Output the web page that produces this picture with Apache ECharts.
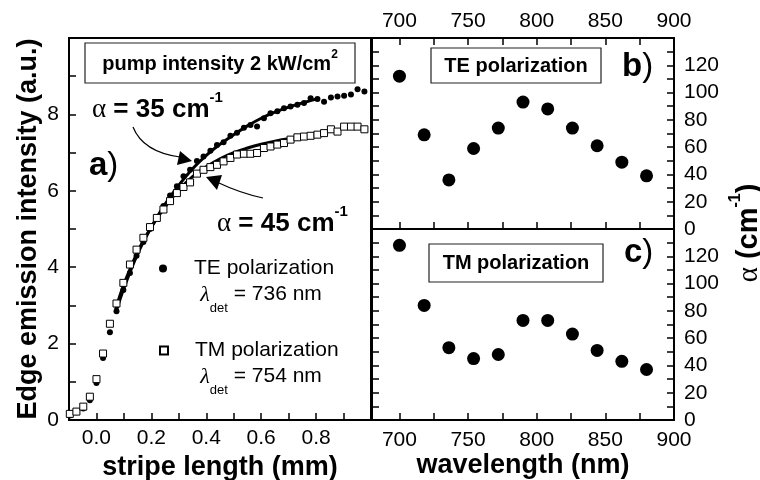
<!DOCTYPE html>
<html>
<head>
<meta charset="utf-8">
<script src="https://cdn.jsdelivr.net/npm/echarts@6/dist/echarts.min.js"></script>
<style>
  html, body { margin: 0; background: #fff; }
  #chart { width: 760px; height: 480px; }
</style>
</head>
<body>
<div id="chart"></div>
<script>
// panel a) - edge emission vs stripe length
const stripeLength = [-0.097, -0.073, -0.048, -0.024, 0.000, 0.024, 0.049, 0.073, 0.098, 0.122,
  0.146, 0.171, 0.195, 0.220, 0.244, 0.268, 0.293, 0.317, 0.341, 0.366,
  0.390, 0.415, 0.439, 0.463, 0.488, 0.512, 0.537, 0.561, 0.585, 0.610,
  0.634, 0.659, 0.683, 0.707, 0.732, 0.756, 0.780, 0.805, 0.829, 0.854,
  0.878, 0.902, 0.927, 0.951, 0.976];
const teIntensity = [0.12, 0.20, 0.30, 0.52, 0.97, 1.62, 2.30, 2.85, 3.40, 3.85,
  4.30, 4.66, 5.00, 5.30, 5.60, 5.88, 6.12, 6.38, 6.55, 6.78,
  6.90, 7.05, 7.20, 7.27, 7.44, 7.52, 7.65, 7.72, 7.68, 7.90,
  8.03, 8.08, 8.16, 8.21, 8.25, 8.30, 8.42, 8.40, 8.33, 8.44,
  8.47, 8.49, 8.52, 8.66, 8.60];
const tmIntensity = [0.16, 0.22, 0.35, 0.61, 1.07, 1.74, 2.52, 3.05, 3.59, 4.07,
  4.46, 4.77, 5.05, 5.29, 5.51, 5.73, 5.94, 6.10, 6.22, 6.45,
  6.55, 6.62, 6.68, 6.77, 6.86, 6.95, 6.97, 6.97, 6.99, 7.12,
  7.16, 7.21, 7.25, 7.34, 7.40, 7.42, 7.44, 7.47, 7.51, 7.61,
  7.55, 7.68, 7.68, 7.68, 7.61];
// fit curves (alpha = 35 and 45 cm-1)
const fitLength = [0.07, 0.10, 0.15, 0.20, 0.25, 0.30, 0.35, 0.40, 0.45, 0.50, 0.55, 0.60, 0.65, 0.70, 0.75, 0.81];
const teFit = [2.80, 3.45, 4.35, 5.05, 5.65, 6.15, 6.58, 6.93, 7.22, 7.47, 7.70, 7.90, 8.06, 8.19, 8.30, 8.42];
const tmFit = [2.90, 3.55, 4.40, 5.05, 5.58, 6.02, 6.37, 6.63, 6.84, 7.00, 7.12, 7.22, 7.30, 7.36, 7.40, 7.43];

// panels b) and c) - gain vs wavelength
const wavelength = [700, 718, 736, 754, 772, 790, 808, 826, 844, 862, 880];
const alphaTE = [112, 69, 36, 59, 74, 93, 88, 74, 61, 49, 39];
const alphaTM = [128, 84, 53, 45, 48, 73, 73, 63, 51, 43, 37];

// ticks and labels
const stripeTicks = [0, 0.1, 0.2, 0.3, 0.4, 0.5, 0.6, 0.7, 0.8, 0.9];
const stripeLabels = [0, 0.2, 0.4, 0.6, 0.8];
const intensityTicks = [0, 1, 2, 3, 4, 5, 6, 7, 8, 9, 10];
const intensityLabels = [0, 2, 4, 6, 8];
const waveTicks = [700, 725, 750, 775, 800, 825, 850, 875, 900];
const waveLabels = [700, 750, 800, 850, 900];
const alphaTicks = [0, 10, 20, 30, 40, 50, 60, 70, 80, 90, 100, 110, 120, 130, 140];
const alphaLabels = [0, 20, 40, 60, 80, 100, 120];

const FONT = '"Liberation Sans", Arial, sans-serif';
const SERIF = '"Liberation Serif", "DejaVu Serif", serif';

function zip(xs, ys) {
  return xs.map((x, i) => [x, ys[i]]);
}

// shared look of every axis
function axis(extra) {
  return Object.assign({
    type: 'value',
    splitLine: { show: false },
    axisLine: { show: true, onZero: false, lineStyle: { color: '#000', width: 2 } },
    axisTick: { show: true, inside: true, length: 7, lineStyle: { color: '#000', width: 1.5 } },
    axisLabel: { show: true, color: '#000', fontSize: 21, fontFamily: FONT },
    nameTextStyle: { color: '#000', fontSize: 27, fontWeight: 'bold', fontFamily: FONT }
  }, extra);
}

function ticks(values) {
  return { inside: true, length: 7, customValues: values, lineStyle: { color: '#000', width: 1.5 } };
}

function labels(values, margin, fmt) {
  return { color: '#000', fontSize: 21, fontFamily: FONT, margin: margin, customValues: values, formatter: fmt };
}

function txt(x, y, text, size, weight, more) {
  return {
    type: 'text', x: x, y: y, z: 100,
    style: Object.assign({
      text: text, fontSize: size, fontWeight: weight || 'normal', fontFamily: FONT,
      fill: '#000', align: 'left', verticalAlign: 'middle'
    }, more)
  };
}

function box(x, y, w, h) {
  return {
    type: 'rect', z: 90,
    shape: { x: x, y: y, width: w, height: h },
    style: { fill: '#fff', stroke: '#222', lineWidth: 1.2 }
  };
}

const supText = {
  a: { fontFamily: SERIF, fontSize: 27, lineHeight: 40 },
  b: { fontFamily: FONT, fontSize: 26, fontWeight: 'bold', lineHeight: 40 },
  s: { fontFamily: FONT, fontSize: 15, fontWeight: 'bold', lineHeight: 15, verticalAlign: 'top' }
};
const subText = {
  l: { fontFamily: SERIF, fontStyle: 'italic', fontSize: 22, lineHeight: 22, verticalAlign: 'top' },
  s: { fontFamily: FONT, fontSize: 13, lineHeight: 13, verticalAlign: 'bottom' },
  t: { fontFamily: FONT, fontSize: 21, lineHeight: 22, verticalAlign: 'top' },
  g: { fontSize: 1, lineHeight: 31, verticalAlign: 'top' }
};
const panelText = {
  b: { fontFamily: FONT, fontSize: 33, fontWeight: 'bold' },
  p: { fontFamily: FONT, fontSize: 33 }
};

function grid(left, top, width, height) {
  return {
    left: left, top: top, width: width, height: height, outerBoundsMode: 'none', containLabel: false,
    show: true, borderColor: '#000', borderWidth: 2
  };
}

const option = {
  backgroundColor: '#fff',
  animation: false,
  grid: [
    grid(69, 38, 302, 382),
    grid(372, 38, 302, 191),
    grid(372, 229, 302, 191)
  ],
  xAxis: [
    axis({
      gridIndex: 0, min: -0.1, max: 1.0, position: 'bottom',
      name: 'stripe length (mm)', nameLocation: 'middle', nameGap: 24,
      axisTick: ticks(stripeTicks),
      axisLabel: labels(stripeLabels, 8, v => v.toFixed(1))
    }),
    axis({
      gridIndex: 1, min: 680, max: 900, position: 'top',
      axisTick: ticks(waveTicks),
      axisLabel: labels(waveLabels, 6)
    }),
    axis({
      gridIndex: 1, min: 680, max: 900, position: 'bottom',
      axisTick: ticks(waveTicks),
      axisLabel: { show: false }
    }),
    axis({
      gridIndex: 2, min: 680, max: 900, position: 'bottom',
      name: 'wavelength (nm)', nameLocation: 'middle', nameGap: 32,
      axisTick: ticks(waveTicks),
      axisLabel: labels(waveLabels, 10)
    })
  ],
  yAxis: [
    axis({
      gridIndex: 0, min: 0, max: 10, position: 'left',
      name: 'Edge emission intensity (a.u.)', nameLocation: 'middle', nameGap: 27,
      axisTick: ticks(intensityTicks),
      axisLabel: labels(intensityLabels, 10)
    }),
    axis({
      gridIndex: 1, min: 0, max: 140, position: 'right',
      axisTick: ticks(alphaTicks),
      axisLabel: labels(alphaLabels, 10)
    }),
    axis({
      gridIndex: 1, min: 0, max: 140, position: 'left',
      axisTick: ticks(alphaTicks),
      axisLabel: { show: false }
    }),
    axis({
      gridIndex: 2, min: 0, max: 140, position: 'right',
      axisTick: ticks(alphaTicks),
      axisLabel: labels(alphaLabels, 10)
    }),
    axis({
      gridIndex: 2, min: 0, max: 140, position: 'left',
      axisTick: ticks(alphaTicks),
      axisLabel: { show: false }
    })
  ],
  legend: [
    {
      data: ['TE polarization'], left: 159, top: 258, padding: 0,
      itemWidth: 8, itemHeight: 8,
      textStyle: { color: '#000', fontSize: 21, fontFamily: FONT, padding: [0, 0, 0, 22] }
    },
    {
      data: ['TM polarization'], left: 159, top: 340, padding: 0,
      itemWidth: 8, itemHeight: 8,
      textStyle: { color: '#000', fontSize: 21, fontFamily: FONT, padding: [0, 0, 0, 22] }
    }
  ],
  series: [
    {
      name: 'TE polarization', type: 'scatter', xAxisIndex: 0, yAxisIndex: 0,
      symbol: 'circle', symbolSize: 6, itemStyle: { color: '#000', opacity: 1 },
      data: zip(stripeLength, teIntensity), z: 2
    },
    {
      name: 'TE fit', type: 'line', xAxisIndex: 0, yAxisIndex: 0,
      symbol: 'none', smooth: 0.4, lineStyle: { color: '#000', width: 3 },
      data: zip(fitLength, teFit), z: 3
    },
    {
      name: 'TM fit', type: 'line', xAxisIndex: 0, yAxisIndex: 0,
      symbol: 'none', smooth: 0.4, lineStyle: { color: '#000', width: 3 },
      data: zip(fitLength, tmFit), z: 3
    },
    {
      name: 'TM polarization', type: 'scatter', xAxisIndex: 0, yAxisIndex: 0,
      symbol: 'rect', symbolSize: 7,
      itemStyle: { color: '#fff', borderColor: '#000', borderWidth: 1, opacity: 1 },
      data: zip(stripeLength, tmIntensity), z: 4
    },
    {
      name: 'alpha TE', type: 'scatter', xAxisIndex: 1, yAxisIndex: 1,
      symbol: 'circle', symbolSize: 13, itemStyle: { color: '#000', opacity: 1 },
      data: zip(wavelength, alphaTE)
    },
    {
      name: 'alpha TM', type: 'scatter', xAxisIndex: 3, yAxisIndex: 3,
      symbol: 'circle', symbolSize: 13, itemStyle: { color: '#000', opacity: 1 },
      data: zip(wavelength, alphaTM)
    }
  ],
  graphic: [
    // text boxes
    box(85, 43, 270, 40),
    txt(220, 64, '{b|pump intensity 2 kW/cm}{s|2}', 20, 'bold', {
      align: 'center',
      rich: {
        b: { fontFamily: FONT, fontSize: 20, fontWeight: 'bold', lineHeight: 30 },
        s: { fontFamily: FONT, fontSize: 12, fontWeight: 'bold', lineHeight: 12, verticalAlign: 'top' }
      }
    }),
    box(431, 48, 170, 35),
    txt(516, 66, 'TE polarization', 20, 'bold', { align: 'center' }),
    box(429, 244, 174, 38),
    txt(516, 263, 'TM polarization', 20, 'bold', { align: 'center' }),
    // panel labels
    txt(89, 166, '{b|a}{p|)}', 33, 'bold', { rich: panelText }),
    txt(622, 67, '{b|b}{p|)}', 33, 'bold', { rich: panelText }),
    txt(624, 253, '{b|c}{p|)}', 33, 'bold', { rich: panelText }),
    // alpha annotations
    txt(92, 110, '{a|α}{b| = 35 cm}{s|-1}', 26, 'bold', { rich: supText }),
    txt(217, 224, '{a|α}{b| = 45 cm}{s|-1}', 26, 'bold', { rich: supText }),
    // legend detection wavelengths
    txt(200, 284, '{g| }{l|λ}{s|det}{t| = 736 nm}', 21, 'normal', { verticalAlign: 'top', rich: subText }),
    txt(200, 366, '{g| }{l|λ}{s|det}{t| = 754 nm}', 21, 'normal', { verticalAlign: 'top', rich: subText }),
    // arrows
    {
      type: 'bezierCurve', z: 100,
      shape: { x1: 133, y1: 127, cpx1: 143, cpy1: 152, x2: 180, y2: 157 },
      style: { stroke: '#000', lineWidth: 1.2, fill: null }
    },
    {
      type: 'polygon', z: 100,
      shape: { points: [[192, 161], [180, 151], [177, 165]] },
      style: { fill: '#000' }
    },
    {
      type: 'bezierCurve', z: 100,
      shape: { x1: 263, y1: 198, cpx1: 240, cpy1: 193, x2: 219, y2: 183 },
      style: { stroke: '#000', lineWidth: 1.2, fill: null }
    },
    {
      type: 'polygon', z: 100,
      shape: { points: [[206, 177], [222, 175], [217, 190]] },
      style: { fill: '#000' }
    },
    // right axis title spanning both panels
    {
      type: 'text', x: 749, y: 233, rotation: Math.PI / 2, z: 100,
      style: {
        text: '{a|α}{b| (cm}{s|-1}{b|)}', align: 'center', verticalAlign: 'middle', fill: '#000',
        rich: {
          a: { fontFamily: SERIF, fontSize: 29, lineHeight: 42 },
          b: { fontFamily: FONT, fontSize: 29, fontWeight: 'bold', lineHeight: 42 },
          s: { fontFamily: FONT, fontSize: 16, fontWeight: 'bold', lineHeight: 16, verticalAlign: 'top' }
        }
      }
    }
  ]
};

const chart = echarts.init(document.getElementById('chart'));
chart.setOption(option);
</script>
</body>
</html>
